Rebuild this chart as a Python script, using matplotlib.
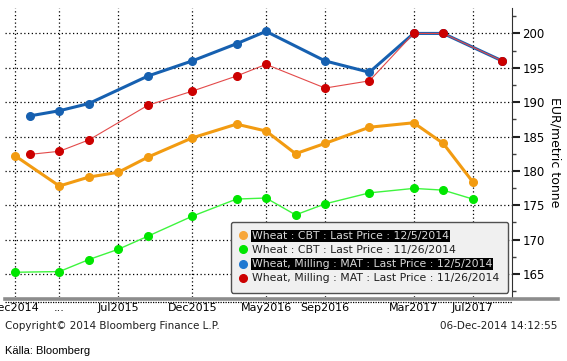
import matplotlib
matplotlib.use("Agg")
import matplotlib.pyplot as plt
from matplotlib.lines import Line2D

# contract months, counted from Dec2014 = 0
cbt_months = [0, 3, 5, 7, 9, 12, 15, 17, 19, 21, 24, 27, 29, 31]
mat_months = [1, 3, 5, 9, 12, 15, 17, 21, 24, 27, 29, 33]

cbt_dec5 = [182.2, 177.8, 179.1, 179.8, 182.0, 184.8, 186.8, 185.8, 182.5, 184.0, 186.35, 187.0, 184.0, 178.4]
cbt_nov26 = [165.25, 165.35, 167.1, 168.6, 170.5, 173.4, 175.9, 176.05, 173.6, 175.2, 176.8, 177.45, 177.2, 175.9]
mat_dec5 = [188.0, 188.75, 189.8, 193.8, 196.0, 198.5, 200.3, 196.0, 194.35, 200.0, 200.0, 196.0]
mat_nov26 = [182.4, 182.85, 184.5, 189.55, 191.6, 193.8, 195.5, 192.05, 193.1, 200.0, 200.0, 196.0]

tick_pos = [0, 3, 7, 12, 17, 21, 27, 31]
tick_lab = ["Dec2014", "...", "Jul2015", "Dec2015", "May2016", "Sep2016", "Mar2017", "Jul2017"]
yticks = [165, 170, 175, 180, 185, 190, 195, 200]

labels = ["Wheat : CBT : Last Price : 12/5/2014",
          "Wheat : CBT : Last Price : 11/26/2014",
          "Wheat, Milling : MAT : Last Price : 12/5/2014",
          "Wheat, Milling : MAT : Last Price : 11/26/2014"]

plt.rcParams['font.family'] = ['DejaVu Sans']
W, H = 567, 361
fig = plt.figure(figsize=(W / 100, H / 100), dpi=100)
ax = fig.add_axes([5 / W, (H - 297) / H, (512 - 5) / W, (297 - 8) / H])

ax.plot(cbt_months, cbt_dec5, color='#f29b11', lw=2.2, marker='o', ms=5.5, zorder=3)
ax.plot(cbt_months, cbt_nov26, color='#3ef53e', lw=1.0, marker='o', ms=5.5,
        mfc='#00e600', mec='#00e600', zorder=3)
ax.plot(mat_months, mat_dec5, color='#1660b0', lw=2.2, marker='o', ms=5.5, zorder=4)
ax.plot(mat_months, mat_nov26, color='#e34a4a', lw=0.8, marker='o', ms=5.5,
        mfc='#cc0000', mec='#cc0000', zorder=5)

ax.set_xlim(-0.68, 33.66)
ax.set_ylim(161.65, 203.7)
ax.set_xticks(tick_pos)
ax.set_xticklabels(tick_lab, fontsize=8)
ax.set_yticks(yticks)
ax.set_yticks([162.5 + 5 * i for i in range(9)], minor=True)
ax.yaxis.tick_right()
ax.yaxis.set_label_position("right")
ax.tick_params(axis='y', which='major', direction='out', length=6, width=1.5,
               color='#202020', labelsize=8.5, pad=1.5)
ax.tick_params(axis='y', which='minor', direction='out', length=3, width=1, color='#404040')
ax.tick_params(axis='x', length=0, pad=4)
ax.set_ylabel("EUR/metric tonne", rotation=-90, fontsize=9, labelpad=12)

ax.grid(True, which='major', color='black', linestyle=(0, (1, 2)), linewidth=0.9)
for s in ['top', 'left']:
    ax.spines[s].set_visible(False)
ax.spines['right'].set_color('#303030')
ax.spines['bottom'].set_visible(False)

# bottom bar and dotted strip
fig.add_artist(Line2D([5 / W, 558 / W], [(H - 298.5) / H] * 2, color='#8c8c8c', lw=2.6))
fig.add_artist(Line2D([5 / W, 512 / W], [(H - 301.5) / H] * 2, color='black', lw=0.9,
                      linestyle=(0, (1, 1))))

handles = [Line2D([], [], ls='none', marker='o', ms=5.5, color=c)
           for c in ['#f7a63a', '#00e600', '#1f78d1', '#cc0000']]
leg = ax.legend(handles, labels, loc='lower right', bbox_to_anchor=(0.993, 0.015),
                fontsize=7.8, frameon=True, fancybox=True, handlelength=0.6,
                handletextpad=0.5, labelspacing=0.38, borderpad=0.85, borderaxespad=0)
leg.get_frame().set_facecolor('#f0f0f0')
leg.get_frame().set_edgecolor('#505050')
leg.get_frame().set_alpha(1)
leg.set_zorder(10)
for i, t in enumerate(leg.get_texts()):
    if i in (0, 2):
        t.set_color('#d8d8d8')
        t.set_bbox(dict(facecolor='black', edgecolor='none', pad=0.6))
    else:
        t.set_color('#202020')

fig.text(5 / W, 1 - 326 / H, "Copyright\u00a9 2014 Bloomberg Finance L.P.", fontsize=7.5,
         va='center', ha='left', color='#202020')
fig.text(557 / W, 1 - 326 / H, "06-Dec-2014 14:12:55", fontsize=7.5,
         va='center', ha='right', color='#202020')
fig.text(5 / W, 1 - 351 / H, "Källa: Bloomberg", fontsize=8, va='center', ha='left',
         family=['Liberation Sans', 'DejaVu Sans'])

fig.savefig("out.png", dpi=100)
